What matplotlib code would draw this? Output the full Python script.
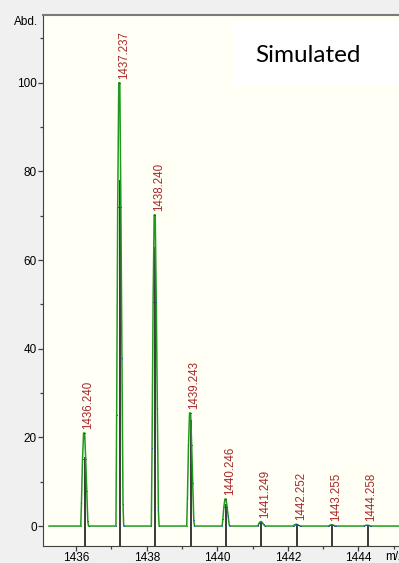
import numpy as np
import matplotlib
matplotlib.use("Agg")
import matplotlib.pyplot as plt
from matplotlib.patches import Rectangle

# peak centroids (m/z) and heights
peak_mz = [1436.240, 1437.237, 1438.240, 1439.243, 1440.246,
           1441.249, 1442.252, 1443.255, 1444.258]
peak_abd = [21.0, 100.0, 70.2, 25.5, 6.1, 1.0, 0.4, 0.3, 0.2]
stick_abd = [15.5, 78.0, 63.0, 24.0, 5.0, 0.8, 0.3, 0.2, 0.1]
peak_labels = ["1436.240", "1437.237", "1438.240", "1439.243", "1440.246",
               "1441.249", "1442.252", "1443.255", "1444.258"]

# sampled profile shape around each centroid (offset in Da, relative height)
shape_off = [-0.11, -0.09, -0.06, -0.03, 0.0, 0.03, 0.06, 0.09, 0.11]
shape_rel = [0.0, 0.25, 0.72, 1.0, 1.0, 0.72, 0.38, 0.05, 0.0]

base_start, base_end = 1435.23, 1445.6

xticks = [1436, 1438, 1440, 1442, 1444]
yticks = [0, 20, 40, 60, 80, 100]

plt.rcParams["font.family"] = ["Liberation Sans", "DejaVu Sans"]

fig = plt.figure(figsize=(3.99, 5.63), dpi=100, facecolor="#f0f0f0")
ax = fig.add_axes([43 / 399, 17 / 563, 367 / 399, 531 / 563])
ax.set_facecolor("#fffff6")

# build the profile trace
px = [base_start]
py = [0.0]
for mz, h in zip(peak_mz, peak_abd):
    for o, r in zip(shape_off, shape_rel):
        px.append(mz + o)
        py.append(h * r)
px.append(base_end)
py.append(0.0)
px = np.array(px)
py = np.array(py)

ymin = -4.5
ax.vlines(peak_mz, ymin, stick_abd, color="#2b2b2b", lw=1.3, zorder=2)
ax.plot(px, py, color="#1f9a1f", lw=1.1, zorder=3)
ax.plot(px[1:-1], py[1:-1], ls="none", marker="s", ms=0.5, mew=0,
        color="#2030b0", zorder=4)

for mz, h, lab in zip(peak_mz, peak_abd, peak_labels):
    ax.annotate(lab, xy=(mz, h), xytext=(4, 4), textcoords="offset pixels",
                rotation=90, ha="center", va="bottom", fontsize=8.3,
                color="#a8282a")

ax.set_xlim(1435.06, 1445.46)
ax.set_ylim(ymin, 115.3)
ax.set_xticks(xticks)
ax.set_xticks(np.arange(1437, 1446, 2), minor=True)
ax.set_yticks(yticks)
ax.set_yticks(np.arange(10, 120, 20), minor=True)
ax.tick_params(which="major", length=3.5, width=0.9, color="#404040",
               labelsize=8.5, pad=1.0)
ax.tick_params(which="minor", length=2.5, width=0.9, color="#404040")
for s in ("left", "bottom"):
    ax.spines[s].set_color("#404040")
ax.spines["top"].set_color("#7a7a7a")
ax.spines["top"].set_linewidth(1.5)

fig.text(38 / 399, 1 - 22 / 563, "Abd.", ha="right", va="center",
         fontsize=8.5)
fig.text(385 / 399, 1 - 557 / 563, "m/z", ha="left", va="center",
         fontsize=8.5)

# "Simulated" box
fig.patches.append(Rectangle((233 / 399, 1 - 85 / 563), 170 / 399, 63 / 563,
                             transform=fig.transFigure, facecolor="white",
                             edgecolor="none", zorder=5))
fig.text(308 / 399, 1 - 55 / 563, "Simulated", ha="center", va="center",
         fontsize=17.5, family=["Lato", "DejaVu Sans"], zorder=6)

plt.savefig("out.png", dpi=100)
plt.close()
